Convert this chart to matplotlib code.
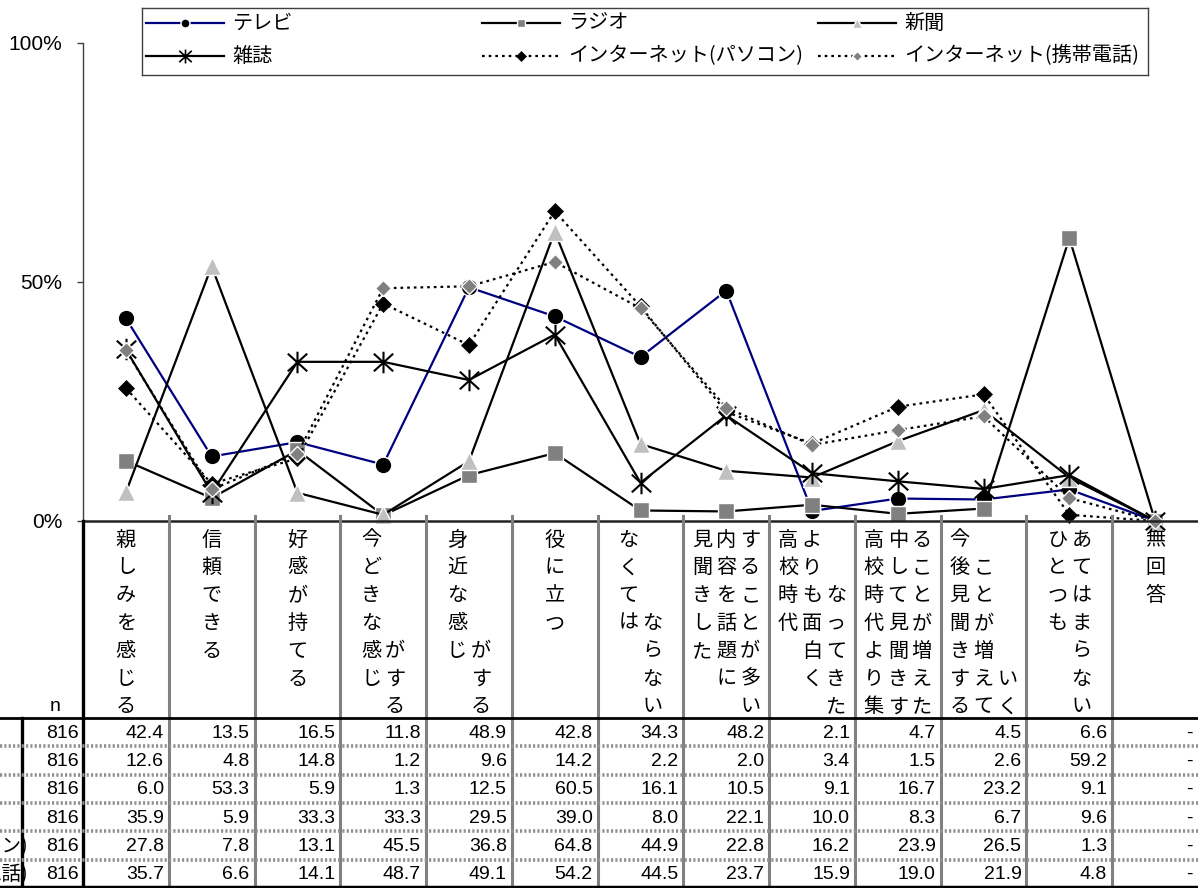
import matplotlib
matplotlib.use("Agg")
import matplotlib.pyplot as plt
from matplotlib.path import Path
from matplotlib.lines import Line2D

plt.rcParams['font.family'] = ['Liberation Sans', 'Noto Sans CJK JP', 'DejaVu Sans']
JP = ['Noto Sans CJK JP', 'DejaVu Sans']

# ---- data -------------------------------------------------------------
categories = ['親しみを感じる', '信頼できる', '好感が持てる', '今どきな感じがする',
              '身近な感じがする', '役に立つ', 'なくてはならない',
              '見聞きした内容を話題にすることが多い', '高校時代よりも面白くなってきた',
              '高校時代より集中して見聞きすることが増えた', '今後見聞きすることが増えていく',
              'ひとつもあてはまらない', '無回答']
series_names = ['テレビ', 'ラジオ', '新聞', '雑誌',
                'インターネット(パソコン)', 'インターネット(携帯電話)']
n_values = [816, 816, 816, 816, 816, 816]
tv = [42.4, 13.5, 16.5, 11.8, 48.9, 42.8, 34.3, 48.2, 2.1, 4.7, 4.5, 6.6, 0.0]
radio = [12.6, 4.8, 14.8, 1.2, 9.6, 14.2, 2.2, 2.0, 3.4, 1.5, 2.6, 59.2, 0.0]
newspaper = [6.0, 53.3, 5.9, 1.3, 12.5, 60.5, 16.1, 10.5, 9.1, 16.7, 23.2, 9.1, 0.0]
magazine = [35.9, 5.9, 33.3, 33.3, 29.5, 39.0, 8.0, 22.1, 10.0, 8.3, 6.7, 9.6, 0.0]
net_pc = [27.8, 7.8, 13.1, 45.5, 36.8, 64.8, 44.9, 22.8, 16.2, 23.9, 26.5, 1.3, 0.0]
net_mobile = [35.7, 6.6, 14.1, 48.7, 49.1, 54.2, 44.5, 23.7, 15.9, 19.0, 21.9, 4.8, 0.0]
values = [tv, radio, newspaper, magazine, net_pc, net_mobile]
y_ticks = [0, 50, 100]
y_tick_labels = ['0%', '50%', '100%']

# how each vertical header label wraps: (chars in column, starting row)
label_wrap = [[(7, 1)], [(5, 1)], [(6, 1)], [(6, 1), (3, 5)], [(5, 1), (3, 5)],
              [(4, 1)], [(4, 1), (4, 4)], [(5, 1), (6, 1), (7, 1)],
              [(4, 1), (6, 1), (5, 3)], [(7, 1), (7, 1), (7, 1)],
              [(7, 1), (6, 2), (2, 6)], [(4, 1), (7, 1)], [(3, 1)]]

# ---- styles -----------------------------------------------------------
star = Path([(0, -1), (0, 1), (-0.9, -0.82), (0.9, 0.82), (-0.9, 0.82), (0.9, -0.82)],
            [Path.MOVETO, Path.LINETO] * 3)
dots = (0, (1.2, 1.8))
styles = [
    dict(color='#000080', ls='-', marker='o', ms=12, mfc='black', mec='white', mew=1),
    dict(color='black', ls='-', marker='s', ms=11.5, mfc='#808080', mec='white', mew=1),
    dict(color='black', ls='-', marker='^', ms=12.5, mfc='#C0C0C0', mec='white', mew=1),
    dict(color='black', ls='-', marker=star, ms=15.5, mfc='none', mec='black', mew=1.5),
    dict(color='black', ls=dots, marker='D', ms=8.5, mfc='black', mec='black', mew=0.5),
    dict(color='black', ls=dots, marker='D', ms=8.5, mfc='#808080', mec='white', mew=1),
]
legend_sizes = [6.5, 6, 6.5, 10, 5, 5]

W, H = 1198, 888
fig = plt.figure(figsize=(W / 100, H / 100), dpi=100)

# ---- line chart -------------------------------------------------------
left_px, top_px, axis_px = 83, 43, 521
ax = fig.add_axes([left_px / W, (H - axis_px) / H, (W - left_px) / W, (axis_px - top_px) / H])
x = list(range(len(categories)))
for vals, st in zip(values, styles):
    ax.plot(x, vals, lw=1.6, clip_on=False, **st)
ax.set_xlim(-0.5, len(categories) - 0.5)
ax.set_ylim(0, 100)
ax.set_xticks([])
ax.set_yticks(y_ticks)
ax.set_yticklabels(y_tick_labels, fontsize=15)
ax.tick_params(axis='y', direction='out', length=4, width=1, pad=11, colors='#404040',
               labelcolor='black')
for s in ('top', 'right'):
    ax.spines[s].set_visible(False)
ax.spines['left'].set_color('#404040')
ax.spines['left'].set_linewidth(1)
ax.spines['bottom'].set_color('#222222')
ax.spines['bottom'].set_linewidth(1.8)

# ---- data table -------------------------------------------------------
col_px = (W - left_px) / len(categories)
tx_min = -0.5 - left_px / col_px
tab_top = 514
tab = fig.add_axes([0, 0, 1, (H - tab_top) / H])
tab.set_xlim(tx_min, len(categories) - 0.5)
tab.set_ylim(H, tab_top)
tab.axis('off')

def px2x(px):
    return tx_min + px / col_px

header_bottom = 718
row_h = 28.3
row_tops = [header_bottom + i * row_h for i in range(len(series_names) + 1)]

# column rules
for k in range(len(categories) - 1):
    tab.plot([k + 0.5, k + 0.5], [516, H], color='#808080', lw=2.2)
tab.plot([-0.5, -0.5], [axis_px, H], color='black', lw=2.4)
tab.plot([px2x(22), px2x(22)], [header_bottom, H], color='black', lw=2.4)
# row rules
tab.plot([tx_min, len(categories) - 0.5], [header_bottom, header_bottom], color='black', lw=2)
tab.plot([tx_min, len(categories) - 0.5], [H - 1.5, H - 1.5], color='black', lw=2.5)
for yb in row_tops[1:-1]:
    tab.plot([tx_min, len(categories) - 0.5], [yb, yb], color='#909090', lw=2.6,
             ls=(0, (0.6, 0.6)))

# vertical header labels
char_row0, char_step, sub_col = 540, 27.8, 24
for k, (label, wrap) in enumerate(zip(categories, label_wrap)):
    pos = 0
    m = len(wrap)
    for j, (cnt, start) in enumerate(wrap):
        cx = k + (j - (m - 1) / 2) * sub_col / col_px
        for i, ch in enumerate(label[pos:pos + cnt]):
            cy = char_row0 + (start - 1 + i) * char_step
            tab.text(cx, cy, ch, family=JP, fontsize=14.5, ha='center', va='center')
        pos += cnt
tab.text(px2x(55), char_row0 + 6 * char_step, 'n', fontsize=14, ha='center', va='center')

# body: the row-name column sits mostly left of the visible area
for r, (name, n, vals) in enumerate(zip(series_names, n_values, values)):
    cy = row_tops[r] + row_h / 2 + 1
    tab.text(px2x(-200), cy, name, family=JP, fontsize=14, ha='left', va='center')
    tab.text(-0.5 - 4 / col_px, cy, f'{n}', fontsize=14, ha='right', va='center')
    for k, v in enumerate(vals):
        txt = '-' if v == 0 else f'{v:.1f}'
        tab.text(k + 0.5 - 5 / col_px, cy, txt, fontsize=14, ha='right', va='center')

# ---- legend -----------------------------------------------------------
lx0, ly0, lx1, ly1 = 142, 8, 1148, 75
leg = fig.add_axes([lx0 / W, (H - ly1) / H, (lx1 - lx0) / W, (ly1 - ly0) / H])
leg.set_xlim(lx0, lx1)
leg.set_ylim(ly1, ly0)
leg.set_xticks([])
leg.set_yticks([])
for s in leg.spines.values():
    s.set_color('#404040')
    s.set_linewidth(1)
leg_cols = [146, 482, 818]
leg_rows = [23, 56]
layout = [(0, 0), (0, 1), (0, 2), (1, 0), (1, 1), (1, 2)]
for (r, c), name, st, msz in zip(layout, series_names, styles, legend_sizes):
    x0 = leg_cols[c]
    y0 = leg_rows[r]
    mew = min(st['mew'], 1.2)
    leg.add_line(Line2D([x0, x0 + 78], [y0, y0], lw=1.6, color=st['color'], ls=st['ls']))
    leg.add_line(Line2D([x0 + 39], [y0], ls='none', marker=st['marker'], ms=msz,
                        mfc=st['mfc'], mec=st['mec'], mew=mew))
    leg.text(x0 + 86, y0, name, family=JP, fontsize=14.5, ha='left', va='center')

fig.savefig('out.png', dpi=100)
